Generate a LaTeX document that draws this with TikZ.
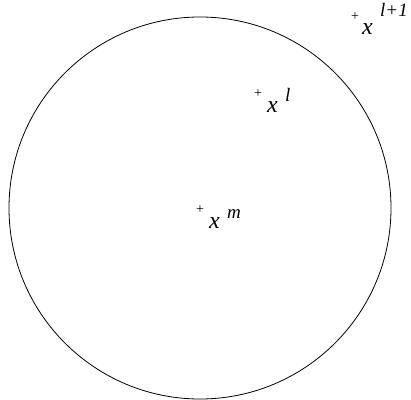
\documentclass[tikz,border=0pt]{standalone}
\usepackage{fontspec}
\setmainfont{Liberation Serif}
\begin{document}
\begin{tikzpicture}[x=1pt,y=1pt,
  lab/.style={inner sep=0pt,anchor=base west,font=\fontsize{24}{26}\selectfont\itshape},
  suplab/.style={inner sep=0pt,anchor=base west,font=\fontsize{19}{21}\selectfont\itshape},
  plusmark/.style={inner sep=0pt,font=\fontsize{14}{15}\selectfont}]
\useasboundingbox (0,0) rectangle (411,399);
\draw[line width=0.8pt] (200,191) circle (191);
% markers
\node[plusmark] (p1) at (355,382) {+};
\node[plusmark] (p2) at (258,305) {+};
\node[plusmark] (p3) at (200,189) {+};
% labels
\node[lab] (x1) at (362,364) {x};
\node[suplab] (s1) at (380,382) {l+1};
\node[lab] (x2) at (267,286) {x};
\node[suplab] (s2) at (285,297) {l};
\node[lab] (x3) at (209,171) {x};
\node[suplab] (s3) at (227,181) {m};
\end{tikzpicture}
\end{document}
